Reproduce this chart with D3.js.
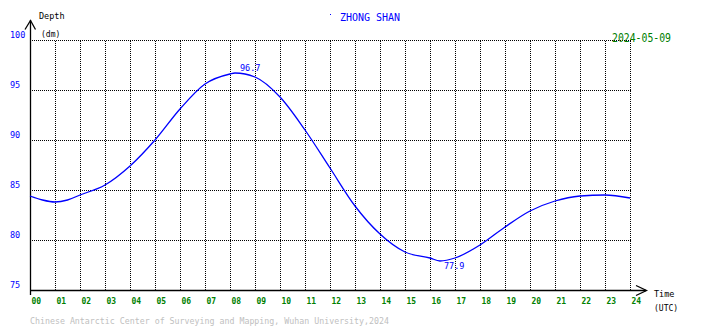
<!DOCTYPE html>
<html>
<head>
<meta charset="utf-8">
<script src="https://cdn.jsdelivr.net/npm/d3@7"></script>
<style>
  html, body { margin: 0; padding: 0; background: #fff; }
  svg { display: block; }
  text { font-family: "DejaVu Sans Mono", monospace; }
</style>
</head>
<body>
<svg id="chart" width="710" height="328"></svg>
<script>
// ---- data ----
const hours = [0, 0.5, 1, 1.5, 2, 3, 4, 5, 6, 7, 8, 8.2, 9, 10, 11, 12, 13, 14, 15, 16, 16.4, 17, 18, 19, 20, 21, 22, 23, 24];
const depth = [84.4, 84.0, 83.8, 84.0, 84.5, 85.5, 87.4, 90.0, 93.1, 95.6, 96.6, 96.7, 96.3, 94.3, 91.0, 87.2, 83.4, 80.6, 78.8, 78.2, 77.9, 78.2, 79.5, 81.3, 82.9, 83.9, 84.4, 84.5, 84.2];
const xTicks = [0,1,2,3,4,5,6,7,8,9,10,11,12,13,14,15,16,17,18,19,20,21,22,23,24];
const yTicks = [75, 80, 85, 90, 95, 100];
const stationName = "ZHONG SHAN";
const dateLabel = "2024-05-09";
const footer = "Chinese Antarctic Center of Surveying and Mapping, Wuhan University,2024";
const highLabel = { t: 8.2, v: 96.7 };
const lowLabel = { t: 16.4, v: 77.9 };

// ---- layout ----
const svg = d3.select("#chart");
const x = d3.scaleLinear().domain([0, 24]).range([30, 630]);
const y = d3.scaleLinear().domain([75, 100]).range([290, 40]);

// grid
const grid = svg.append("g").attr("stroke", "#000").attr("stroke-width", 1)
  .attr("stroke-dasharray", "1,1").attr("shape-rendering", "crispEdges");
grid.selectAll("line.v").data(xTicks.filter(d => d > 0)).join("line")
  .attr("x1", d => x(d) + 0.5).attr("x2", d => x(d) + 0.5)
  .attr("y1", y(100) + 0.5).attr("y2", y(75));
grid.selectAll("line.h").data(yTicks.filter(d => d > 75)).join("line")
  .attr("x1", x(0) + 2).attr("x2", x(24) + 1)
  .attr("y1", d => y(d) + 0.5).attr("y2", d => y(d) + 0.5);

// axes lines with arrows
const ax = svg.append("g").attr("stroke", "#000").attr("stroke-width", 1.3).attr("fill", "none");
ax.append("line").attr("x1", x(0) + 0.5).attr("x2", x(0) + 0.5).attr("y1", y(75) + 5).attr("y2", 20);
ax.append("path").attr("d", `M${x(0)-5},29.5 L${x(0)+0.5},20.5 L${x(0)+5.5},29.5`);
ax.append("line").attr("x1", x(0)).attr("x2", 646).attr("y1", y(75) + 0.5).attr("y2", y(75) + 0.5);
ax.append("path").attr("d", `M636,285.5 L646.5,290.5 L636,295.5`);

// y tick labels via axis
const yAxis = svg.append("g").attr("transform", `translate(${x(0)},0)`)
  .call(d3.axisLeft(y).tickValues(yTicks).tickSize(0).tickFormat(d3.format("d")));
yAxis.select(".domain").remove();
yAxis.selectAll("text")
  .attr("x", -20).attr("dy", "-0.05em")
  .attr("text-anchor", "start")
  .attr("fill", "#0000ff").style("font-size", "8.5px").style("font-family", "DejaVu Sans Mono, monospace");
yAxis.selectAll("text").attr("transform", "translate(0,-2)");

// x tick labels via axis
const xAxis = svg.append("g").attr("transform", `translate(0,${y(75)})`)
  .call(d3.axisBottom(x).tickValues(xTicks).tickSize(0).tickFormat(d3.format("02d")));
xAxis.select(".domain").remove();
xAxis.selectAll("text")
  .attr("y", 14).attr("dy", 0)
  .attr("dx", 1)
  .attr("text-anchor", "start")
  .attr("fill", "#008000").style("font-weight", "bold")
  .style("font-size", "8px").style("font-family", "DejaVu Sans Mono, monospace");

// curve
const pts = hours.map((h, i) => [h, depth[i]]);
svg.append("path")
  .datum(pts)
  .attr("fill", "none").attr("stroke", "#0000ff").attr("stroke-width", 1.3)
  .attr("d", d3.line().x(d => x(d[0])).y(d => y(d[1])).curve(d3.curveMonotoneX));

// extreme labels
svg.append("text").attr("x", x(highLabel.t) + 5).attr("y", y(highLabel.v) - 2)
  .attr("fill", "#0000ff").style("font-size", "8.5px").text(highLabel.v.toFixed(1));
svg.append("text").attr("x", x(lowLabel.t) + 4).attr("y", y(lowLabel.v) + 8)
  .attr("fill", "#0000ff").style("font-size", "8.5px").text(lowLabel.v.toFixed(1));

// labels
svg.append("text").attr("x", 39).attr("y", 19).attr("fill", "#000").style("font-size", "8.5px").text("Depth");
svg.append("text").attr("x", 41).attr("y", 37).attr("fill", "#000").style("font-size", "8px").text("(dm)");
svg.append("text").attr("x", 654).attr("y", 297).attr("fill", "#000").style("font-size", "8.5px").text("Time");
svg.append("text").attr("x", 654).attr("y", 311).attr("fill", "#000").style("font-size", "8px").text("(UTC)");

svg.append("rect").attr("x", 330).attr("y", 14).attr("width", 1).attr("height", 1).attr("fill", "#0000ff");
svg.append("text").attr("x", 340).attr("y", 21).attr("fill", "#0000ff")
  .style("font-size", "11px").attr("textLength", 60).attr("lengthAdjust", "spacingAndGlyphs").text(stationName);
svg.append("text").attr("x", 612).attr("y", 41.5).attr("fill", "#008000")
  .style("font-size", "12.5px").attr("textLength", 59).attr("lengthAdjust", "spacingAndGlyphs").text(dateLabel);
svg.append("text").attr("x", 30).attr("y", 323.5).attr("fill", "#c0c0c0")
  .style("font-size", "8.5px").attr("textLength", 359).attr("lengthAdjust", "spacingAndGlyphs").text(footer);
</script>
</body>
</html>
